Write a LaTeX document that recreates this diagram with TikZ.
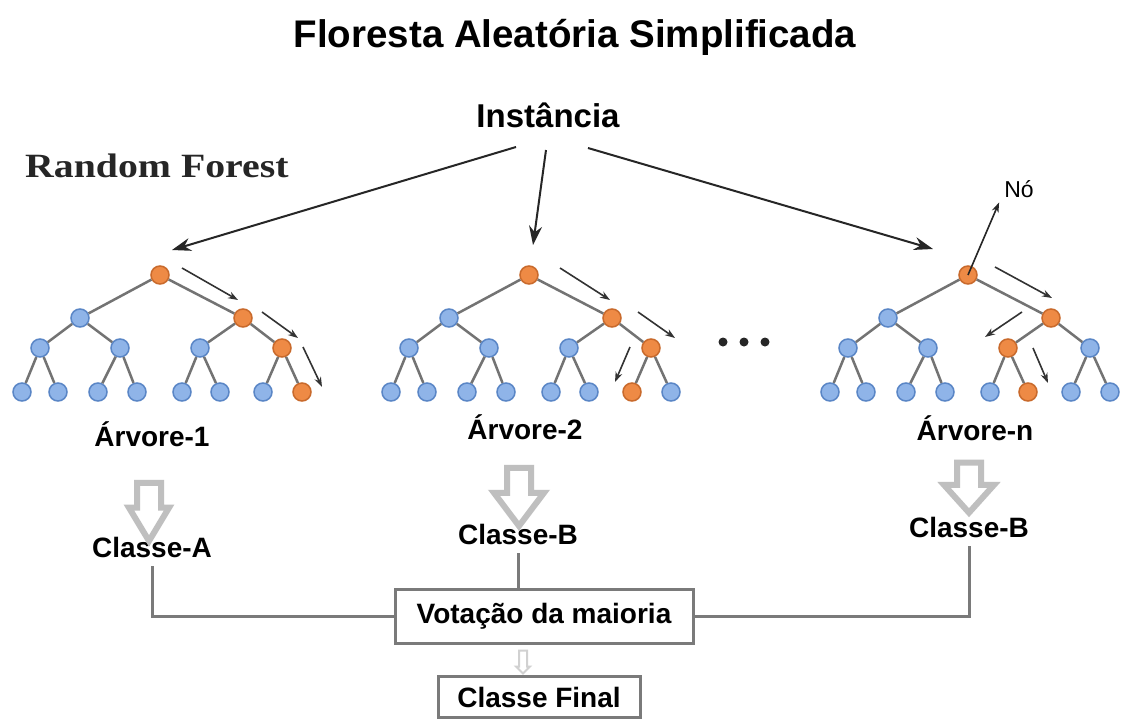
\documentclass[tikz,border=0pt]{standalone}
\usepackage{fontspec}
\setmainfont{Liberation Sans}
\newfontfamily\rfserif{Liberation Serif}
\usetikzlibrary{arrows.meta,shapes.arrows}

\definecolor{ofill}{HTML}{EE8A45}
\definecolor{odraw}{HTML}{C96A2C}
\definecolor{bfill}{HTML}{8FB4E8}
\definecolor{bdraw}{HTML}{5A86C6}

\begin{document}
\begin{tikzpicture}[x=1pt, y=-1pt,
  every node/.style={inner sep=0pt},
  lbl/.style={font=\fontsize{28}{30}\selectfont\bfseries, anchor=base},
  tnode/.style={circle, minimum size=18pt, line width=1.5pt},
  branch/.style={draw=black!55, line width=2.5pt},
  feed/.style={-{Stealth[length=19pt,width=13pt]}, draw=black!85, line width=2pt},
  walk/.style={-{Stealth[length=10pt,width=7pt]}, draw=black!80, line width=1.6pt},
  fat/.style={single arrow, draw=black!25, fill=white, line width=6pt, rotate=-90},
  vote/.style={draw=black!52, line width=3pt},
  votebox/.style={draw=black!52, line width=3pt, font=\fontsize{28}{30}\selectfont\bfseries}]
\fill[white] (0,0) rectangle (1122,720);
\useasboundingbox (0,0) rectangle (1122,720);

% titles
\node[font=\fontsize{38.5}{40}\selectfont\bfseries, anchor=base] (title) at (575,47) {Floresta Aleatória Simplificada};
\node[font=\fontsize{33}{35}\selectfont\bfseries, anchor=base] (ins) at (548,127) {Instância};
\node[font=\fontsize{34}{36}\selectfont\rfserif\bfseries, text=black!85, anchor=base west] (rf) at (25,177) {\scalebox{1.17}[1]{Random Forest}};

% the three trees
\foreach \tr/\xr/\oi/\ol in {1/160/4/8, 2/529/4/7, 3/968/3/6}{
  \node[tnode, fill=ofill, draw=odraw] (r\tr) at (\xr,275) {};
  \node[tnode, fill=bfill, draw=bdraw] (a\tr1) at ({\xr-80},318) {};
  \node[tnode, fill=ofill, draw=odraw] (a\tr2) at ({\xr+83},318) {};
  \foreach \nn/\dd in {1/-120,2/-40,3/40,4/122}{
    \ifnum\nn=\oi \def\fc{ofill}\def\dc{odraw}\else\def\fc{bfill}\def\dc{bdraw}\fi
    \node[tnode, fill=\fc, draw=\dc] (b\tr\nn) at ({\xr+(\dd)},348) {};
  }
  \foreach \lf/\dd in {1/-138,2/-102,3/-62,4/-23,5/22,6/60,7/103,8/142}{
    \ifnum\lf=\ol \def\fc{ofill}\def\dc{odraw}\else\def\fc{bfill}\def\dc{bdraw}\fi
    \node[tnode, fill=\fc, draw=\dc] (c\tr\lf) at ({\xr+(\dd)},392) {};
  }
  \draw[branch] (r\tr) -- (a\tr1);
  \draw[branch] (r\tr) -- (a\tr2);
  \draw[branch] (a\tr1) -- (b\tr1);
  \draw[branch] (a\tr1) -- (b\tr2);
  \draw[branch] (a\tr2) -- (b\tr3);
  \draw[branch] (a\tr2) -- (b\tr4);
  \foreach \lf in {1,...,8}{
    \pgfmathtruncatemacro\pa{(\lf+1)/2}
    \draw[branch] (b\tr\pa) -- (c\tr\lf);
  }
}

% instance to trees
\coordinate (s1) at (516,147);
\coordinate (s2) at (546,150);
\coordinate (s3) at (588,148);
\coordinate (e1) at (172,250);
\coordinate (e2) at (533,245);
\coordinate (e3) at (933,249);
\draw[feed] (s1) -- (e1);
\draw[feed] (s2) -- (e2);
\draw[feed] (s3) -- (e3);

% decision paths
\draw[walk] (182,268) -- (238,300);
\draw[walk] (262,312) -- (298,338);
\draw[walk] (303,347) -- (322,387);
\draw[walk] (560,268) -- (610,300);
\draw[walk] (638,312) -- (675,338);
\draw[walk] (630,347) -- (615,382);
\draw[walk] (995,267) -- (1052,298);
\draw[walk] (1022,312) -- (985,337);
\draw[walk] (1033,348) -- (1048,383);

\node[font=\fontsize{23}{25}\selectfont, anchor=base, inner sep=5pt] (no) at (1019,197) {Nó};
\draw[-{Stealth[length=10pt,width=7pt]}, draw=black!85, line width=1.6pt] (r3.center) -- (no.south west);

% dots
\fill[black!85] (723,342) circle (4.5pt);
\fill[black!85] (744,342) circle (4.5pt);
\fill[black!85] (765,342) circle (4.5pt);

% labels and classes
\node[lbl] (t1) at (152,446) {Árvore-1};
\node[lbl] (t2) at (525,439) {Árvore-2};
\node[lbl] (tn) at (975,440) {Árvore-n};
\node[lbl, inner sep=9pt] (ca) at (152,557) {Classe-A};
\node[lbl, inner sep=9pt] (cb) at (518,544) {Classe-B};
\node[lbl, inner sep=9pt] (cn) at (969,537) {Classe-B};

\node[fat, minimum height=58pt, minimum width=36pt, inner sep=9pt, single arrow head extend=8pt, single arrow tip angle=62] (ar1) at (149,502) {};
\node[fat, minimum height=58pt, minimum width=46pt, inner sep=9pt, single arrow head extend=13pt, single arrow tip angle=74] (ar2) at (519,489) {};
\node[fat, minimum height=50pt, minimum width=46pt, inner sep=9pt, single arrow head extend=13pt, single arrow tip angle=84] (arn) at (969,481) {};

% voting
\node[votebox, minimum width=298pt, minimum height=54pt] (vote) at (544,616) {Votação da maioria};
\node[votebox, minimum width=202pt, minimum height=41pt] (final) at (539,697) {Classe Final};
\draw[vote] (ca.south) |- (vote.west);
\draw[vote] (cn.south) |- (vote.east);
\draw[vote] (cb.south) -- (cb.south |- vote.north);
\node[single arrow, draw=black!18, fill=white, line width=2pt, rotate=-90, minimum height=23pt, minimum width=14pt, inner sep=3pt, single arrow head extend=3pt] (arv) at (523,660) {};
\end{tikzpicture}
\end{document}
